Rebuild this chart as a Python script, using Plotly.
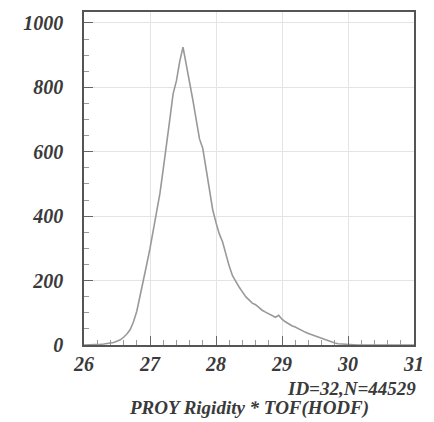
import plotly.graph_objects as go

# Histogram: PROY Rigidity * TOF(HODF), bin width 0.05 starting at 26.00
bin_start = 26.0
bin_width = 0.05
counts = [
    0, 0, 0, 1, 1, 2, 3, 4, 6, 8,
    12, 16, 24, 34, 48, 72, 105, 150, 200, 250,
    300, 355, 410, 470, 545, 615, 700, 780, 820, 880,
    925, 870, 820, 760, 700, 640, 610, 550, 480, 420,
    380, 345, 320, 280, 245, 215, 195, 180, 165, 150,
    140, 130, 125, 115, 108, 102, 96, 90, 86, 92,
    80, 72, 65, 60, 56, 50, 45, 40, 36, 32,
    28, 24, 20, 16, 12, 9, 6, 4, 3, 2,
    1, 1, 0, 0, 0, 0, 0, 0, 0, 0,
    0, 0, 0, 0, 0, 0, 0, 0, 0, 0, 0,
]
x_centers = [round(bin_start + i * bin_width, 3) for i in range(len(counts))]

x_ticks = [26, 27, 28, 29, 30, 31]
y_ticks = [0, 200, 400, 600, 800, 1000]
info_text = "ID=32,N=44529"
axis_title = "PROY Rigidity * TOF(HODF)"

tick_fnt = dict(family="Liberation Serif", size=20, color="#3a3a3a", style="italic", weight="bold")
ann_fnt = dict(family="Liberation Serif", size=19, color="#3a3a3a", style="italic", weight="bold")

fig = go.Figure()
fig.add_trace(go.Scatter(
    x=x_centers, y=counts, mode="lines",
    line=dict(color="#999999", width=1.6),
    showlegend=False,
))

fig.update_xaxes(
    range=[26, 31], tickvals=x_ticks, ticktext=[str(v) for v in x_ticks],
    ticks="inside", ticklen=9, tickcolor="#666", tickwidth=1,
    minor=dict(dtick=0.2, ticks="inside", ticklen=5, tickcolor="#999", showgrid=False),
    showgrid=True, gridcolor="#e4e4e4", gridwidth=1,
    showline=True, linecolor="#555", linewidth=1.5, mirror=True,
    tickfont=tick_fnt, zeroline=False, ticklabelstandoff=0,
)
fig.update_yaxes(
    range=[0, 1034], tickvals=y_ticks, ticktext=[str(v) for v in y_ticks],
    ticks="inside", ticklen=9, tickcolor="#666", tickwidth=1,
    minor=dict(dtick=50, ticks="inside", ticklen=5, tickcolor="#999", showgrid=False),
    showgrid=True, gridcolor="#e4e4e4", gridwidth=1,
    showline=True, linecolor="#555", linewidth=1.5, mirror=True,
    tickfont=tick_fnt, zeroline=False, ticklabelstandoff=15,
)

fig.add_annotation(text=info_text, xref="paper", yref="paper", x=1.0, y=-0.132,
                   xanchor="right", yanchor="middle", showarrow=False, font=ann_fnt,
                   borderpad=0, xshift=3)
fig.add_annotation(text=axis_title, xref="paper", yref="paper", x=0.5, y=-0.19,
                   xanchor="center", yanchor="middle", showarrow=False, font=ann_fnt,
                   borderpad=0)

fig.update_layout(
    width=434, height=422,
    margin=dict(l=84, r=14, t=10, b=77),
    plot_bgcolor="white", paper_bgcolor="white",
)
fig.write_html("out.html")
